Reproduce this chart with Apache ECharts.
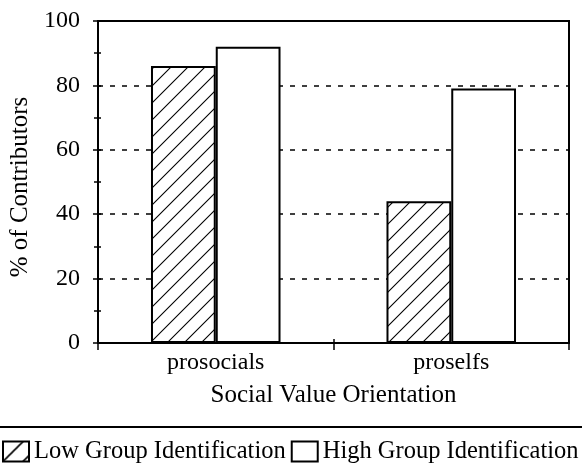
<!DOCTYPE html>
<html><head><meta charset="utf-8">
<script src="https://cdn.jsdelivr.net/npm/echarts@6/dist/echarts.min.js"></script>
<style>html,body{margin:0;padding:0;background:#fff}#c{width:582px;height:468px}</style>
</head><body><div id="c"></div>
<script>
const categories = ['prosocials', 'proselfs'];
const lowValues = [86, 44];
const highValues = [92, 79];
const seriesNames = ['Low Group Identification', 'High Group Identification'];
const yTicks = [0, 20, 40, 60, 80, 100];

function hatch(s, w) {
  const cv = document.createElement('canvas');
  cv.width = s; cv.height = s;
  const ctx = cv.getContext('2d');
  ctx.fillStyle = '#fff'; ctx.fillRect(0, 0, s, s);
  ctx.strokeStyle = '#000'; ctx.lineWidth = w;
  ctx.beginPath();
  ctx.moveTo(-2, s + 2); ctx.lineTo(s + 2, -2);
  ctx.moveTo(-2, 2); ctx.lineTo(2, -2);
  ctx.moveTo(s - 2, s + 2); ctx.lineTo(s + 2, s - 2);
  ctx.stroke();
  return cv;
}
const font = 'Liberation Serif';
const chart = echarts.init(document.getElementById('c'), null, {renderer: 'canvas'});
chart.setOption({
  animation: false,
  backgroundColor: '#fff',
  textStyle: {fontFamily: font, color: '#000'},
  grid: {left: 98, right: 13, top: 21, bottom: 125, show: true, borderColor: '#000', borderWidth: 2},
  legend: {
    left: 2, top: 439, itemWidth: 26, itemHeight: 20, itemGap: 5, icon: 'rect', padding: 0,
    textStyle: {fontFamily: font, fontSize: 24.5, color: '#000'},
    data: [
      {name: seriesNames[0], itemStyle: {color: {image: hatch(20, 1.6), repeat: 'repeat'}, borderColor: '#000', borderWidth: 2}},
      {name: seriesNames[1], itemStyle: {color: '#fff', borderColor: '#000', borderWidth: 2}}
    ]
  },
  xAxis: [{
    type: 'category', data: categories,
    axisLine: {lineStyle: {color: '#000', width: 2}},
    axisTick: {show: true, length: 7, lineStyle: {color: '#000', width: 1.5}},
    axisLabel: {fontFamily: font, fontSize: 24, color: '#000', margin: 8},
    name: 'Social Value Orientation', nameLocation: 'middle', nameGap: 40,
    nameTextStyle: {fontFamily: font, fontSize: 25, color: '#000'}
  }, {
    type: 'category', data: categories, position: 'bottom',
    axisLine: {show: false}, axisTick: {show: true, inside: true, length: 4, lineStyle: {color: '#000', width: 1.5}},
    axisLabel: {show: false}
  }],
  yAxis: [{
    type: 'value', min: 0, max: 100, interval: 20,
    axisLine: {show: true, lineStyle: {color: '#000', width: 2}},
    axisTick: {show: true, length: 5, lineStyle: {color: '#000', width: 1.5}},
    minorTick: {show: true, splitNumber: 2, length: 4, lineStyle: {color: '#000', width: 1.5}},
    axisLabel: {fontFamily: font, fontSize: 24, color: '#000', margin: 18,
      formatter: v => yTicks.includes(v) ? String(v) : ''},
    splitLine: {show: true, lineStyle: {color: '#000', width: 1.5, type: [5, 7]}},
    name: '% of Contributors', nameLocation: 'middle', nameGap: 64,
    nameTextStyle: {fontFamily: font, fontSize: 25, color: '#000', padding: [0, 10, 0, 0]}
  }, {
    type: 'value', min: 0, max: 100, interval: 10, position: 'left', offset: 0,
    axisLine: {show: false}, axisLabel: {show: false}, splitLine: {show: false},
    axisTick: {show: true, inside: true, length: 3, lineStyle: {color: '#000', width: 1.5}}
  }],
  series: [{
    name: seriesNames[0], type: 'bar', data: lowValues, barGap: '0%', barCategoryGap: '45%',
    itemStyle: {color: {image: hatch(17, 1.1), repeat: 'repeat'}, borderColor: '#000', borderWidth: 2}
  }, {
    name: seriesNames[1], type: 'bar', data: highValues, barGap: '0%', barCategoryGap: '45%',
    itemStyle: {color: '#fff', borderColor: '#000', borderWidth: 2}
  }],
  graphic: [{
    type: 'line', shape: {x1: 0, y1: 427, x2: 582, y2: 427},
    style: {stroke: '#000', lineWidth: 2}, silent: true
  }]
});
</script></body></html>
